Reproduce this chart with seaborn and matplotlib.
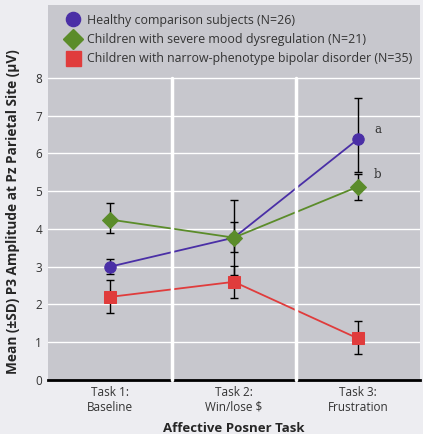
import pandas as pd
import matplotlib
matplotlib.use("Agg")
import matplotlib.pyplot as plt
import seaborn as sns
from matplotlib.lines import Line2D

# Data
tasks = ["Task 1:\nBaseline", "Task 2:\nWin/lose $", "Task 3:\nFrustration"]
groups = ["Healthy comparison subjects (N=26)",
          "Children with severe mood dysregulation (N=21)",
          "Children with narrow-phenotype bipolar disorder (N=35)"]

healthy_mean = [3.0, 3.77, 6.38]
healthy_low = [2.8, 3.38, 5.5]
healthy_high = [3.2, 4.19, 7.48]

smd_mean = [4.25, 3.77, 5.12]
smd_low = [3.88, 2.78, 4.77]
smd_high = [4.68, 4.77, 5.45]

bd_mean = [2.2, 2.6, 1.1]
bd_low = [1.78, 2.16, 0.68]
bd_high = [2.65, 3.02, 1.56]

yticks = [0, 1, 2, 3, 4, 5, 6, 7, 8]

colors = ["#4a2fa6", "#5b8c2a", "#e03c3c"]
markers = ["o", "D", "s"]
msizes = [8.2, 7.8, 8.8]

means = [healthy_mean, smd_mean, bd_mean]
lows = [healthy_low, smd_low, bd_low]
highs = [healthy_high, smd_high, bd_high]

rows = []
for g, m in zip(groups, means):
    for i, v in enumerate(m):
        rows.append({"task": i, "value": v, "group": g})
df = pd.DataFrame(rows)

sns.set_style("white")
plt.rcParams["font.family"] = ["Open Sans", "DejaVu Sans"]

fig = plt.figure(figsize=(4.23, 4.34), dpi=100)
fig.patch.set_facecolor("#ededf1")
ax = fig.add_axes([0.113, 0.1244, 0.88, 0.864])
ax.set_facecolor("#c7c7cd")

# error bars (black, behind the lines)
for m, lo, hi in zip(means, lows, highs):
    err = [[a - b for a, b in zip(m, lo)], [b - a for a, b in zip(m, hi)]]
    ax.errorbar(range(3), m, yerr=err, fmt="none", ecolor="black",
                elinewidth=1.0, capsize=3, capthick=1.0, zorder=1.5)

for g, c, mk, ms in zip(groups, colors, markers, msizes):
    sub = df[df["group"] == g]
    sns.lineplot(data=sub, x="task", y="value", color=c, marker=mk,
                 markersize=ms, markeredgecolor=c, linewidth=1.3, ax=ax,
                 zorder=2, legend=False)

ax.set_xlim(-0.5, 2.5)
ax.set_ylim(0, 9.93)
ax.set_yticks(yticks)
ax.set_yticklabels([str(t) for t in yticks], fontsize=8.5, color="#333333")
ax.set_xticks(range(3))
ax.set_xticklabels(tasks, fontsize=8.5, color="#333333")
ax.tick_params(axis="both", length=0, pad=4)

for t in yticks[1:]:
    ax.axhline(t, color="white", lw=1.0, zorder=0.5)
for s in ["top", "right", "left"]:
    ax.spines[s].set_visible(False)
ax.spines["bottom"].set_color("black")
ax.spines["bottom"].set_linewidth(2.0)
for xv in [0.5, 1.5]:
    ax.axvline(xv, ymin=0, ymax=8 / 9.93, color="white", lw=2.5,
               zorder=3, clip_on=False)

ax.set_xlabel("Affective Posner Task", fontsize=9.5, fontweight="bold",
              labelpad=6)
ax.set_ylabel("Mean (\u00b1SD) P3 Amplitude at Pz Parietal Site (\u00b5V)",
              fontsize=9.8, fontweight="bold")
ax.yaxis.set_label_coords(-0.075, 0.448)

ax.text(2.13, 6.55, "a", fontsize=8.5, family="DejaVu Serif", color="#333333")
ax.text(2.13, 5.35, "b", fontsize=8.5, family="DejaVu Serif", color="#333333")

handles = [Line2D([], [], color=c, marker=mk, markersize=ms + 2, linestyle="none")
           for c, mk, ms in zip(colors, markers, msizes)]
ax.legend(handles, groups, loc="upper left", bbox_to_anchor=(0.035, 0.99),
          frameon=False, fontsize=8.9, handlelength=1.2, handletextpad=0.55,
          labelspacing=0.5, borderaxespad=0, labelcolor="#333333")

fig.savefig("out.png", dpi=100, facecolor=fig.get_facecolor())
